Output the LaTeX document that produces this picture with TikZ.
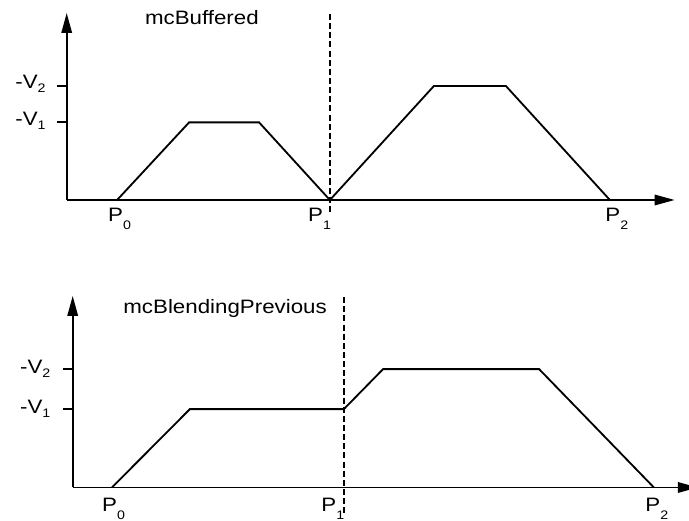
\documentclass[tikz,border=0pt]{standalone}
\usepackage{fontspec}
\setmainfont{Liberation Sans}[FakeStretch=1.15]
\usetikzlibrary{arrows.meta}

\newcommand{\idxP}[1]{\raisebox{-5.5pt}{\fontsize{8.8}{9}\selectfont #1}}
\newcommand{\idxV}[1]{\raisebox{-2.8pt}{\fontsize{8.8}{9}\selectfont #1}}

\begin{document}
\begin{tikzpicture}[
    font=\fontsize{13.8}{16}\selectfont,
    axis/.style={line width=1.4pt, -{Triangle[length=5mm, width=2.6mm]}},
    curve/.style={line width=1.3pt, line join=miter},
    guide/.style={line width=1.3pt, dash pattern=on 4.3pt off 2.2pt},
    tickmark/.style={line width=1.4pt},
    lab/.style={anchor=base west, inner sep=0pt},
    ttl/.style={anchor=base, inner sep=0pt}
]
    \path[use as bounding box] (0,0) rectangle (17.225,13.025);

    % mcBuffered
    \begin{scope}[shift={(1.6675,8.025)}]
        \coordinate (ob) at (0,0);
        \coordinate (yb) at (0,4.675);
        \coordinate (xb) at (15.2,0);
        \coordinate (b0) at (1.26,0);
        \coordinate (b1) at (3.06,1.94);
        \coordinate (b2) at (4.81,1.94);
        \coordinate (b3) at (6.58,0);
        \coordinate (b4) at (9.18,2.85);
        \coordinate (b5) at (10.98,2.85);
        \coordinate (b6) at (13.58,0);
        \coordinate (db0) at (6.58,4.65);
        \coordinate (db1) at (6.58,-0.375);
        \coordinate (tb1) at (-0.24,1.94);
        \coordinate (tb2) at (-0.24,2.85);

        \node[ttl] (tb) at (3.38,4.375) {mcBuffered};
        \node[lab] (vb2) at (-1.29,2.775) {-V\idxV{2}};
        \node[lab] (vb1) at (-1.29,1.86) {-V\idxV{1}};
        \node[lab] (pb0) at (1.03,-0.55) {P\idxP{0}};
        \node[lab] (pb1) at (6.03,-0.55) {P\idxP{1}};
        \node[lab] (pb2) at (13.46,-0.55) {P\idxP{2}};

        \draw[axis] (ob) -- (yb);
        \draw[axis] (ob) -- (xb);
        \draw[tickmark] (tb1) -- (tb1 -| ob);
        \draw[tickmark] (tb2) -- (tb2 -| ob);
        \draw[guide] (db0) -- (db1);
        \draw[curve] (b0) -- (b1) -- (b2) -- (b3) -- (b4) -- (b5) -- (b6);
    \end{scope}

    % mcBlendingPrevious
    \begin{scope}[shift={(1.8175,0.8375)}]
        \coordinate (op) at (0,0);
        \coordinate (yp) at (0,4.79);
        \coordinate (xp) at (15.63,0);
        \coordinate (c0) at (0.98,0);
        \coordinate (c1) at (2.93,1.96);
        \coordinate (c2) at (6.78,1.96);
        \coordinate (c3) at (7.76,2.96);
        \coordinate (c4) at (11.66,2.96);
        \coordinate (c5) at (14.53,0);
        \coordinate (dp0) at (6.78,4.76);
        \coordinate (dp1) at (6.78,-0.64);
        \coordinate (tp1) at (-0.24,1.96);
        \coordinate (tp2) at (-0.24,2.96);

        \node[ttl] (tp) at (3.81,4.34) {mcBlendingPrevious};
        \node[lab] (vp2) at (-1.32,2.86) {-V\idxV{2}};
        \node[lab] (vp1) at (-1.32,1.86) {-V\idxV{1}};
        \node[lab] (pp0) at (0.73,-0.6) {P\idxP{0}};
        \node[lab] (pp1) at (6.21,-0.6) {P\idxP{1}};
        \node[lab] (pp2) at (14.31,-0.6) {P\idxP{2}};

        \draw[axis] (op) -- (yp);
        \draw[axis] (op) -- (xp);
        \draw[tickmark] (tp1) -- (tp1 -| op);
        \draw[tickmark] (tp2) -- (tp2 -| op);
        \draw[guide] (dp0) -- (dp1);
        \draw[curve] (c0) -- (c1) -- (c2) -- (c3) -- (c4) -- (c5);
    \end{scope}
\end{tikzpicture}
\end{document}
